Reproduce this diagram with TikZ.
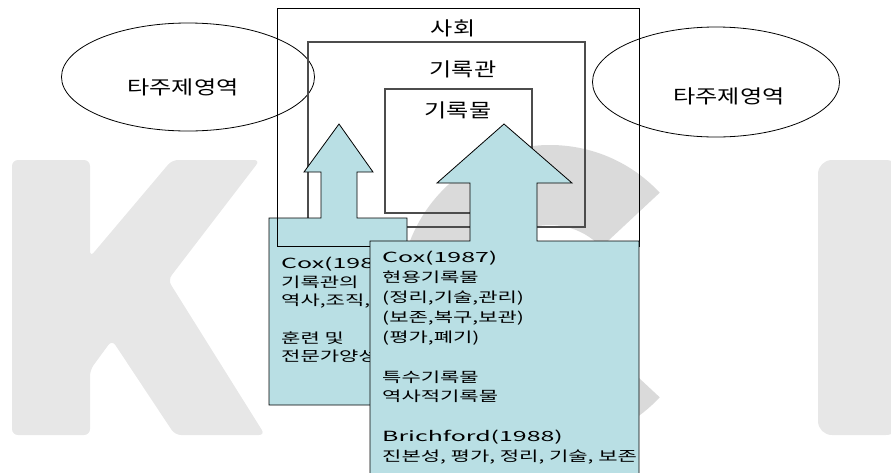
\documentclass[tikz,border=0pt]{standalone}
\usepackage{fontspec}
\usepackage{tikz}
\usetikzlibrary{shapes}
\newfontfamily\krtitle[FakeStretch=1.27]{Noto Sans CJK KR}
\newfontfamily\krnote[FakeStretch=1.5]{Noto Sans CJK KR}
\newfontfamily\krlatin[FakeStretch=1.78]{Noto Sans CJK KR}
\definecolor{arrowblue}{RGB}{185,223,228}
\definecolor{markgray}{RGB}{231,231,231}
\definecolor{markdark}{RGB}{218,218,218}

\begin{document}
\begin{tikzpicture}[x=1pt, y=-1pt,
        title_style/.style={inner sep=0pt, font=\krtitle\fontsize{19}{19}\selectfont},
        ellipse_style/.style={ellipse, draw=black, line width=0.8pt, minimum width=253pt, minimum height=108pt},
        outer_style/.style={draw=black, line width=0.8pt},
        box_style/.style={draw=black!70, line width=1.1pt},
        arrow_style/.style={draw=black, line width=0.8pt, fill=arrowblue},
        note_style/.style={anchor=north west, inner sep=0pt, align=left, font=\krnote\fontsize{14}{19.9}\selectfont},
        mark_style/.style={fill=markgray, rounded corners=6pt}]

        \useasboundingbox (0,0) rectangle (891,472);
        \clip (0,0) rectangle (891,472);

        % watermark
        \fill [mark_style] (12,160) -- (90,160) -- (90,257) -- (172,160) -- (260,160) -- (168,280)
            -- (265,435) -- (175,435) -- (112,340) -- (90,370) -- (90,435) -- (12,435) -- cycle;
        \fill [mark_style, rounded corners=14pt] (818,160) -- (900,160) -- (900,435) -- (818,435) -- cycle;
        \fill [markdark] (550,295) ++(43:150pt) arc [start angle=43, end angle=317, radius=150pt]
            -- ++(137:80pt) arc [start angle=317, end angle=43, radius=70pt] -- cycle;

        % areas
        \node [ellipse_style] (other_left) at (188,77) {};
        \node [ellipse_style, minimum width=247pt, minimum height=110pt] (other_right) at (716,82) {};
        \node [title_style] (other_left_label) at (183,87) {타주제영역};
        \node [title_style] (other_right_label) at (729,96) {타주제영역};

        \draw [box_style] (308,42) rectangle (585,227);
        \draw [box_style] (385,89) rectangle (532,213);
        \node [title_style] (archive_label) at (463,69) {기록관};
        \node [title_style] (record_label) at (458,110) {기록물};

        % small arrow
        \draw [arrow_style] (269,405) -- (269,218) -- (321,218) -- (321,172) -- (304,172) -- (339,124)
            -- (373,172) -- (357,172) -- (357,218) -- (407,218) -- (407,405) -- cycle;
        \node [note_style, font=\krnote\fontsize{14}{18.6}\selectfont] (archive_note) at (281,257)
            {{\krlatin Cox(1987)}\\기록관의\\역사,조직,\\\\훈련 및\\전문가양성};

        \draw [outer_style] (277,8) rectangle (639,246);
        \node [title_style] (society_label) at (453,28) {사회};

        % big arrow
        \draw [arrow_style] (370,480) -- (370,241) -- (470,241) -- (470,183) -- (437,183) -- (504,124)
            -- (572,183) -- (537,183) -- (537,241) -- (639,241) -- (639,480) -- cycle;
        \begin{scope}
        \clip (370,241) rectangle (638.6,480);
        \node [note_style] (record_note) at (382,251) {{\krlatin Cox(1987)}\\현용기록물\\(정리,기술,관리)\\(보존,복구,보관)\\(평가,폐기)\\\\특수기록물\\역사적기록물\\\\{\krlatin Brichford(1988)}\\진본성, 평가, 정리, 기술, 보존};
        \end{scope}
        \end{tikzpicture}
\end{document}
